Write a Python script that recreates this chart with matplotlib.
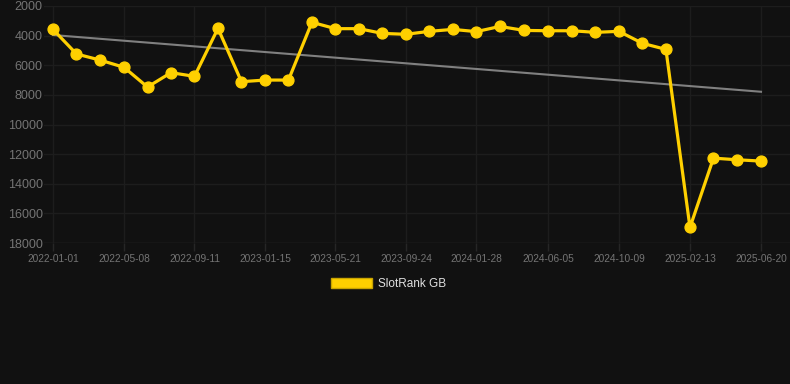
import numpy as np
import pandas as pd
import matplotlib
matplotlib.use("Agg")
import matplotlib.pyplot as plt
import matplotlib.dates as mdates
from matplotlib.patches import Patch

# 数据：日期与排名（排名越小越好，Y 轴反转）
dates = [
    "2022-01-01", "2022-02-12", "2022-03-26", "2022-05-08", "2022-06-19",
    "2022-07-31", "2022-09-11", "2022-10-23", "2022-12-04", "2023-01-15",
    "2023-02-26", "2023-04-09", "2023-05-21", "2023-07-02", "2023-08-13",
    "2023-09-24", "2023-11-05", "2023-12-17", "2024-01-28", "2024-03-10",
    "2024-04-23", "2024-06-05", "2024-07-17", "2024-08-28", "2024-10-09",
    "2024-11-20", "2025-01-01", "2025-02-13", "2025-03-27", "2025-05-08",
    "2025-06-20",
]
rank_gb = [
    3580, 5240, 5650, 6140, 7470,
    6500, 6750, 3510, 7110, 7000,
    7000, 3100, 3530, 3530, 3850,
    3910, 3710, 3580, 3730, 3380,
    3650, 3670, 3670, 3780, 3710,
    4520, 4930, 16950, 12270, 12380,
    12470,
]
trend_dates = ["2022-01-01", "2025-06-20"]
trend_values = [3960, 7790]

tick_dates = [
    "2022-01-01", "2022-05-08", "2022-09-11", "2023-01-15", "2023-05-21",
    "2023-09-24", "2024-01-28", "2024-06-05", "2024-10-09", "2025-02-13",
    "2025-06-20",
]
y_ticks = [2000, 4000, 6000, 8000, 10000, 12000, 14000, 16000, 18000]
series_label = "SlotRank GB"

BG = "#111111"
GRID = "#1d1d1d"
YELLOW = "#FFD000"
TICK_COLOR = "#747474"

plt.rcParams["font.family"] = ["Liberation Sans", "DejaVu Sans"]

x = pd.to_datetime(dates)
tx = pd.to_datetime(trend_dates)

W, H = 790, 384
fig = plt.figure(figsize=(W / 100, H / 100), dpi=100, facecolor=BG)
# 坐标轴位置按像素给出
left, right, top, bottom = 44, 790, 6, 243
ax = fig.add_axes([left / W, 1 - bottom / H, (right - left) / W, (bottom - top) / H])
ax.set_facecolor(BG)

ax.plot(tx, trend_values, color="#808080", linewidth=1.5, zorder=2)
ax.plot(x, rank_gb, color=YELLOW, linewidth=2.3, marker="o", markersize=7.8,
        zorder=3, clip_on=False)

# x 轴范围：2022-01-01 在像素 53，2025-06-20 在像素 761
d0 = mdates.date2num(pd.Timestamp("2022-01-01"))
d1 = mdates.date2num(pd.Timestamp("2025-06-20"))
per_px = (d1 - d0) / (761 - 53)
ax.set_xlim(d0 - (53 - left) * per_px, d1 + (right - 761) * per_px)
ax.set_ylim(18000, 2000)

ax.set_xticks(pd.to_datetime(tick_dates))
ax.xaxis.set_major_formatter(mdates.DateFormatter("%Y-%m-%d"))
ax.set_yticks(y_ticks)

ax.grid(True, color=GRID, linewidth=1.0)
for s in ax.spines.values():
    s.set_visible(False)
ax.axhline(18000, color="#262626", linewidth=1.0, zorder=1)
ax.tick_params(axis="x", colors="#262626", labelcolor=TICK_COLOR, labelsize=7.3,
               length=6, width=1.0, pad=2)
ax.tick_params(axis="y", length=0, labelcolor=TICK_COLOR, labelsize=9, pad=1)

fig.legend(handles=[Patch(facecolor=YELLOW, edgecolor="#c9a400", label=series_label)],
           loc="center", bbox_to_anchor=(0.492, 1 - 284 / H), frameon=False,
           fontsize=8.5, labelcolor="#e0e0e0", handlelength=3.5, handleheight=1.0,
           handletextpad=0.5)

fig.savefig("out.png", dpi=100, facecolor=BG)
